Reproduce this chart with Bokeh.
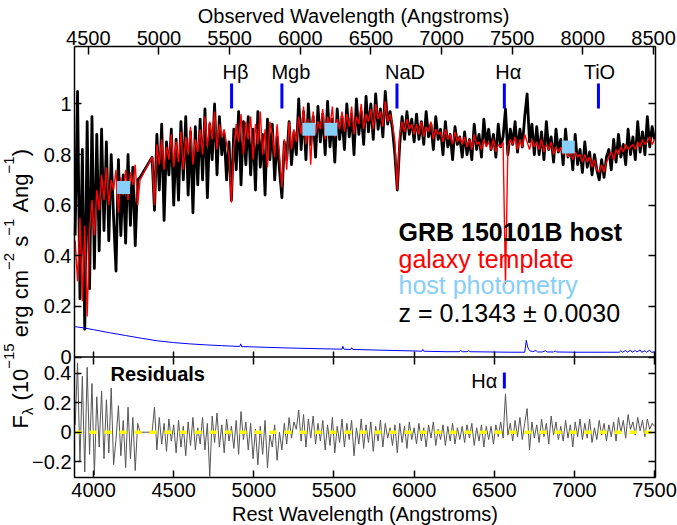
import math
from bokeh.plotting import figure
from bokeh.models import (Range1d, LinearAxis, FixedTicker, CustomJSTickFormatter,
                          Label, ColumnDataSource)
from bokeh.embed import file_html
from bokeh.resources import INLINE

# ---------------- data ----------------
REDSHIFT = 0.1343
REDSHIFT_ERR = 0.0030

WAVE = [
    3885, 3900, 3915, 3930, 3945, 3960, 3975, 3990, 4005, 4020,
    4035, 4050, 4065, 4080, 4095, 4110, 4125, 4140, 4155, 4170,
    4185, 4200, 4215, 4230, 4245, 4260, 4275, 4290,
    4365, 4380, 4395, 4410, 4425, 4440, 4455, 4470, 4485, 4500,
    4515, 4530, 4545, 4560, 4575, 4590, 4605, 4620, 4635, 4650,
    4665, 4680, 4695, 4710, 4725, 4740, 4755, 4770, 4785, 4800,
    4815, 4830, 4845, 4860, 4875, 4890, 4905, 4920, 4935, 4950,
    4965, 4980, 4995, 5010, 5025, 5040, 5055, 5070, 5085, 5100,
    5115, 5130, 5145, 5160, 5175, 5190, 5205, 5220, 5235, 5250,
    5265, 5280, 5295, 5310, 5325, 5340, 5355, 5370, 5385, 5400,
    5415, 5430, 5445, 5460, 5475, 5490, 5505, 5520, 5535, 5550,
    5565, 5580, 5595, 5610, 5625, 5640, 5655, 5670, 5685, 5700,
    5715, 5730, 5745, 5760, 5775, 5790, 5805, 5820, 5835, 5850,
    5865, 5880, 5895, 5910, 5925, 5940, 5955, 5970, 5985, 6000,
    6015, 6030, 6045, 6060, 6075, 6090, 6105, 6120, 6135, 6150,
    6165, 6180, 6195, 6210, 6225, 6240, 6255, 6270, 6285, 6300,
    6315, 6330, 6345, 6360, 6375, 6390, 6405, 6420, 6435, 6450,
    6465, 6480, 6495, 6510, 6525, 6540, 6555, 6570, 6585, 6600,
    6615, 6630, 6645, 6660, 6675, 6690, 6705, 6720, 6735, 6750,
    6765, 6780, 6795, 6810, 6825, 6840, 6855, 6870, 6885, 6900,
    6915, 6930, 6945, 6960, 6975, 6990, 7005, 7020, 7035, 7050,
    7065, 7080, 7095, 7110, 7125, 7140, 7155, 7170, 7185, 7200,
    7215, 7230, 7245, 7260, 7275, 7290, 7305, 7320, 7335, 7350,
    7365, 7380, 7395, 7410, 7425, 7440, 7455, 7470, 7485, 7500,
]

FLUX = [
    0.48, 1.05, 0.23, 0.82, 0.11, 0.93, 0.27, 0.95, 0.35, 0.88,
    0.42, 0.90, 0.50, 0.85, 0.46, 0.80, 0.55, 0.34, 0.78, 0.48,
    0.72, 0.45, 0.80, 0.52, 0.75, 0.44, 0.70, 0.71,
    0.79, 0.58, 0.88, 0.66, 0.92, 0.54, 0.85, 0.72, 0.90, 0.60,
    0.86, 0.62, 0.93, 0.70, 0.95, 0.64, 0.89, 0.57, 0.91, 0.68,
    0.94, 0.70, 0.98, 0.63, 0.92, 0.78, 1.00, 0.72, 0.95, 0.80,
    0.88, 0.70, 0.85, 0.62, 0.90, 0.74, 0.97, 0.68, 0.93, 0.76,
    0.95, 0.72, 0.90, 0.66, 0.97, 0.75, 0.88, 0.64, 0.94, 0.78,
    0.92, 0.70, 0.87, 0.74, 0.63, 0.85, 0.78, 0.93, 0.76, 0.89,
    0.80, 1.02, 0.82, 0.97, 0.78, 1.00, 0.84, 0.95, 0.79, 0.99,
    0.85, 0.96, 0.80, 1.01, 0.83, 0.94, 0.77, 0.98, 0.86, 0.95,
    0.82, 1.00, 0.87, 0.96, 0.80, 1.02, 0.88, 0.97, 0.84, 1.03,
    0.89, 1.00, 0.86, 1.04, 0.90, 0.98, 0.87, 1.05, 0.92, 0.97,
    0.90, 0.80, 0.66, 0.84, 0.95, 0.86, 0.97, 0.88, 0.94, 0.85,
    0.96, 0.86, 0.93, 0.84, 0.97, 0.87, 0.92, 0.82, 0.95, 0.86,
    0.90, 0.80, 0.93, 0.83, 0.88, 0.78, 0.91, 0.84, 0.87, 0.79,
    0.89, 0.80, 0.86, 0.78, 0.92, 0.82, 0.88, 0.79, 0.94, 0.84,
    0.90, 0.82, 0.88, 0.79, 0.92, 0.83, 0.87, 0.98, 0.80, 0.90,
    0.84, 0.93, 0.81, 0.90, 0.83, 0.95, 1.04, 0.85, 0.92, 0.80,
    0.91, 0.80, 0.89, 0.78, 0.93, 0.82, 0.87, 0.77, 0.90, 0.81,
    0.86, 0.76, 0.90, 0.79, 0.84, 0.74, 0.88, 0.76, 0.82, 0.73,
    0.85, 0.75, 0.81, 0.72, 0.80, 0.74, 0.70, 0.78, 0.71, 0.79,
    0.82, 0.74, 0.86, 0.77, 0.88, 0.79, 0.84, 0.76, 0.90, 0.80,
    0.87, 0.78, 0.93, 0.81, 0.89, 0.80, 0.95, 0.83, 0.91, 0.86,
]

MODEL = [
    0.46, 0.30, 0.55, 0.22, 0.52, 0.16, 0.50, 0.62, 0.48, 0.66,
    0.58, 0.72, 0.62, 0.75, 0.60, 0.70, 0.66, 0.74, 0.57, 0.71,
    0.64, 0.74, 0.62, 0.73, 0.68, 0.76, 0.60, 0.70,
    0.79, 0.60, 0.84, 0.76, 0.86, 0.74, 0.83, 0.78, 0.88, 0.75,
    0.85, 0.77, 0.89, 0.74, 0.87, 0.80, 0.91, 0.76, 0.86, 0.81,
    0.90, 0.80, 0.95, 0.83, 0.93, 0.86, 0.97, 0.82, 0.92, 0.87,
    0.90, 0.84, 0.80, 0.61, 0.83, 0.92, 0.85, 0.96, 0.80, 0.93,
    0.86, 0.95, 0.78, 0.92, 0.84, 0.97, 0.80, 0.90, 0.75, 0.93,
    0.88, 0.79, 0.92, 0.80, 0.67, 0.86, 0.74, 0.93, 0.82, 0.90,
    0.85, 0.95, 0.88, 0.99, 0.84, 0.94, 0.76, 0.97, 0.88, 0.93,
    0.90, 0.98, 0.86, 0.95, 0.91, 0.99, 0.87, 0.94, 0.90, 0.97,
    0.89, 0.96, 0.91, 0.99, 0.88, 0.95, 0.92, 1.00, 0.90, 0.96,
    0.93, 0.98, 0.90, 1.00, 0.94, 0.97, 0.91, 1.01, 0.93, 0.96,
    0.92, 0.85, 0.66, 0.88, 0.93, 0.89, 0.94, 0.90, 0.92, 0.88,
    0.92, 0.88, 0.93, 0.87, 0.91, 0.89, 0.93, 0.86, 0.90, 0.88,
    0.89, 0.85, 0.90, 0.86, 0.88, 0.84, 0.89, 0.85, 0.87, 0.84,
    0.87, 0.83, 0.86, 0.82, 0.88, 0.84, 0.85, 0.82, 0.86, 0.83,
    0.85, 0.82, 0.86, 0.81, 0.84, 0.83, 0.85, 0.29, 0.83, 0.86,
    0.84, 0.87, 0.82, 0.86, 0.83, 0.88, 0.85, 0.82, 0.86, 0.83,
    0.85, 0.82, 0.86, 0.81, 0.84, 0.82, 0.85, 0.80, 0.83, 0.81,
    0.83, 0.80, 0.84, 0.79, 0.82, 0.78, 0.81, 0.79, 0.80, 0.77,
    0.80, 0.77, 0.79, 0.75, 0.78, 0.74, 0.73, 0.76, 0.73, 0.77,
    0.79, 0.81, 0.78, 0.82, 0.80, 0.83, 0.81, 0.84, 0.82, 0.83,
    0.84, 0.82, 0.85, 0.83, 0.86, 0.84, 0.85, 0.87, 0.84, 0.86,
]

RESID = [
    0.05, 0.47, -0.20, 0.38, -0.27, 0.44, -0.15, 0.33, -0.29, 0.24,
    -0.10, 0.28, -0.18, 0.22, -0.14, 0.30, -0.22, -0.05, 0.18, -0.16,
    0.08, -0.24, 0.17, -0.18, 0.10, -0.26, 0.06, 0.00,
    0.00, 0.17, -0.12, 0.10, -0.08, 0.06, -0.13, 0.09, -0.06, 0.05,
    -0.14, 0.08, -0.10, 0.04, -0.16, 0.07, -0.09, 0.10, -0.12, 0.03,
    -0.08, 0.10, -0.12, 0.06, -0.30, 0.11, -0.07, 0.13, -0.10, 0.05,
    -0.14, 0.09, -0.06, 0.04, -0.11, 0.08, -0.15, 0.14, -0.05, 0.07,
    -0.12, 0.06, -0.18, 0.02, -0.22, 0.04, -0.15, 0.08, -0.24, -0.02,
    -0.10, 0.05, -0.19, 0.00, -0.12, 0.06, -0.08, 0.10, -0.04, 0.07,
    0.02, 0.15, -0.06, 0.12, -0.10, 0.09, -0.04, 0.11, -0.08, 0.06,
    -0.06, 0.08, -0.12, 0.05, -0.09, 0.10, -0.14, 0.04, -0.07, 0.09,
    -0.10, 0.06, -0.05, 0.08, -0.16, 0.03, -0.08, 0.09, -0.11, 0.05,
    -0.07, 0.07, -0.13, 0.04, -0.06, 0.08, -0.10, 0.06, -0.04, 0.03,
    -0.09, 0.05, -0.14, 0.06, -0.07, 0.04, -0.11, 0.07, -0.05, 0.03,
    -0.08, 0.06, -0.06, 0.03, -0.10, 0.05, -0.04, 0.07, -0.09, 0.02,
    -0.05, 0.05, -0.09, 0.04, -0.06, 0.06, -0.08, 0.03, -0.05, 0.04,
    -0.07, 0.05, -0.04, 0.06, -0.09, 0.03, -0.06, 0.05, -0.10, 0.04,
    -0.05, 0.04, -0.08, 0.05, -0.03, 0.07, -0.04, 0.26, -0.02, 0.06,
    -0.06, 0.08, -0.03, 0.10, -0.05, 0.06, 0.16, -0.12, 0.07, -0.04,
    0.05, -0.07, 0.09, -0.03, 0.06, -0.08, 0.11, -0.02, 0.07, -0.05,
    0.04, -0.06, 0.08, -0.04, 0.05, -0.10, 0.07, -0.03, 0.09, -0.05,
    0.06, -0.04, 0.09, -0.07, 0.03, -0.05, 0.08, -0.02, 0.06, -0.06,
    0.05, -0.03, 0.07, -0.06, 0.10, 0.00, 0.08, -0.04, 0.12, 0.02,
    0.07, -0.02, 0.10, 0.01, 0.08, -0.03, 0.09, 0.02, 0.06, 0.04,
]

ERR_WAVE = [
    3885, 3940, 4000, 4100, 4200, 4300, 4400, 4500, 4600, 4700,
    4800, 4900, 4912, 4918, 4924, 5000, 5200, 5400, 5550, 5556,
    5562, 5605, 5611, 5617, 5800, 6000, 6048, 6054, 6060, 6200,
    6280, 6290, 6300, 6330, 6340, 6350, 6600, 6690, 6700, 6708,
    6716, 6724, 6740, 6760, 6770, 6800, 6820, 6830, 6870, 6880,
    6890, 7000, 7200, 7280, 7290, 7300, 7320, 7330, 7350, 7360,
    7380, 7390, 7410, 7420, 7440, 7450, 7470, 7480, 7500,
]
ERR_FLUX = [
    0.120, 0.115, 0.108, 0.096, 0.085, 0.074, 0.064, 0.057, 0.052, 0.048,
    0.045, 0.042, 0.042, 0.052, 0.041, 0.040, 0.036, 0.033, 0.031, 0.042,
    0.031, 0.030, 0.037, 0.030, 0.027, 0.024, 0.023, 0.030, 0.023, 0.021,
    0.021, 0.026, 0.021, 0.021, 0.025, 0.021, 0.019, 0.019, 0.066, 0.040,
    0.030, 0.024, 0.021, 0.026, 0.020, 0.020, 0.025, 0.020, 0.020, 0.024,
    0.020, 0.019, 0.019, 0.019, 0.025, 0.019, 0.026, 0.019, 0.027, 0.019,
    0.026, 0.020, 0.028, 0.019, 0.025, 0.019, 0.027, 0.019, 0.020,
]

PHOT_WAVE = [4187, 5343, 5481, 6962]
PHOT_FLUX = [0.67, 0.90, 0.90, 0.83]

LINE_NAMES = ["Hβ", "Mgb", "NaD", "Hα", "TiO"]
LINE_WAVE = [4861, 5175, 5893, 6563, 7150]

REST_TICKS = [4000, 4500, 5000, 5500, 6000, 6500, 7000, 7500]
OBS_TICKS = [4500, 5000, 5500, 6000, 6500, 7000, 7500, 8000, 8500]
FLUX_TICKS = [0, 0.2, 0.4, 0.6, 0.8, 1.0]
RESID_TICKS = [-0.2, 0, 0.2, 0.4]

# ---------------- layout / style ----------------
FONT = "Liberation Sans"
W, H = 677, 525
# panel box in canvas pixels
PX_L, PX_R, PX_T, PX_B = 74, 655, 46, 477
X_LO, X_HI = 3881, 7506          # rest wavelength at PX_L, PX_R
Y_LO, Y_HI = -0.476, 1.227       # flux units at PX_B, PX_T
RES_LO, RES_HI = -0.307, 2.615   # residual units at PX_B, PX_T


def X(px):
    return X_LO + (px - PX_L) * (X_HI - X_LO) / (PX_R - PX_L)


def Y(py):
    return Y_HI - (py - PX_T) * (Y_HI - Y_LO) / (PX_B - PX_T)


def RY(py):
    return RES_HI - (py - PX_T) * (RES_HI - RES_LO) / (PX_B - PX_T)


p = figure(width=W, height=H, output_backend="svg", toolbar_location=None,
           x_range=Range1d(X(0), X(W)), y_range=Range1d(Y(H), Y(0)),
           x_axis_location=None, y_axis_location=None,
           min_border=0, min_border_left=0, min_border_right=0,
           min_border_top=0, min_border_bottom=0)
try:
    p.title = None
except Exception:
    p.title.visible = False
p.grid.visible = False
p.background_fill_color = "white"
p.border_fill_color = "white"
p.outline_line_color = None

p.extra_x_ranges = {"obs": Range1d(X(0) * (1 + REDSHIFT), X(W) * (1 + REDSHIFT))}
p.extra_y_ranges = {"res": Range1d(RY(H), RY(0))}

num_fmt = CustomJSTickFormatter(code="""
const v = Math.round(tick * 10) / 10;
return (v < 0 ? '\u2212' : '') + String(Math.abs(v));
""")
blank_fmt = CustomJSTickFormatter(code="return '';")


def make_axis(side, tick_len, standoff=4, **kw):
    ax = LinearAxis(**kw)
    ax.axis_line_color = None
    ax.major_tick_in = tick_len
    ax.major_tick_out = 0
    ax.minor_tick_in = 0
    ax.minor_tick_out = 0
    ax.major_tick_line_color = "black"
    ax.major_tick_line_width = 1.5
    ax.major_label_text_font = FONT
    ax.major_label_text_font_size = "20px"
    ax.major_label_text_color = "black"
    ax.major_label_standoff = standoff
    p.add_layout(ax, side)
    return ax


# bottom rest-wavelength axis
make_axis("below", 7, 5, ticker=FixedTicker(ticks=REST_TICKS), fixed_location=Y(PX_B))
# ticks on the divider between the two panels
make_axis("below", 6, ticker=FixedTicker(ticks=REST_TICKS), formatter=blank_fmt,
          fixed_location=0)
make_axis("above", 7, ticker=FixedTicker(ticks=REST_TICKS), formatter=blank_fmt,
          fixed_location=0)
# top observed-wavelength axis
make_axis("above", 8, 2, x_range_name="obs", ticker=FixedTicker(ticks=OBS_TICKS),
          fixed_location=Y(PX_T))
# left axes
make_axis("left", 7, 3, ticker=FixedTicker(ticks=FLUX_TICKS), formatter=num_fmt,
          fixed_location=X(PX_L))
make_axis("left", 7, 3, y_range_name="res", ticker=FixedTicker(ticks=RESID_TICKS),
          formatter=num_fmt, fixed_location=X(PX_L))
# right mirrored ticks
make_axis("right", 7, ticker=FixedTicker(ticks=FLUX_TICKS), formatter=blank_fmt,
          fixed_location=X(PX_R))
make_axis("right", 7, y_range_name="res", ticker=FixedTicker(ticks=RESID_TICKS),
          formatter=blank_fmt, fixed_location=X(PX_R))


def text(x, py, s, size=20, align="left", color="black", style="normal",
         angle=0.0, dx=0):
    """Label whose visual (cap-height) centre sits at canvas row py."""
    p.add_layout(Label(x=x, y=Y(py), x_offset=dx, text=s, text_align=align,
                       text_baseline="middle", text_font=FONT,
                       text_font_size="%dpx" % size, text_font_style=style,
                       text_color=color, angle=angle))


# ---------------- glyphs ----------------
n = min(len(WAVE), len(FLUX), len(MODEL), len(RESID))
spec = ColumnDataSource(dict(w=WAVE[:n], f=FLUX[:n], m=MODEL[:n], r=RESID[:n]))

p.line("w", "f", source=spec, line_color="black", line_width=2.8, line_join="round")
p.line("w", "m", source=spec, line_color="#FF0000", line_width=1.4)
p.line(ERR_WAVE, ERR_FLUX, line_color="#0000FF", line_width=1)
p.scatter(PHOT_WAVE, PHOT_FLUX, marker="square", size=13,
          fill_color="#87CEFA", line_color=None)

# spectral feature markers
p.segment(x0=LINE_WAVE, x1=LINE_WAVE, y0=Y(108), y1=Y(83),
          line_color="#0000FF", line_width=3)
LINE_LABEL_DX = [4, 9, 8, 4, 1]
for name, wl, dx in zip(LINE_NAMES, LINE_WAVE, LINE_LABEL_DX):
    text(wl, 71, name, align="center", dx=dx)

# residuals
p.line("w", "r", source=spec, y_range_name="res", line_color="#555555", line_width=1)
p.line([X(PX_L), X(PX_R)], [0, 0], y_range_name="res",
       line_color="#FFFF00", line_width=3.5, line_dash="7 8")
HA = LINE_WAVE[LINE_NAMES.index("Hα")]
p.segment(x0=[HA], x1=[HA], y0=Y(388), y1=Y(372), line_color="#0000FF", line_width=3)
text(HA, 380, "Hα", align="right", dx=-7)
text(X(110), 373, "Residuals", style="bold")

# panel frames and divider
p.line([X(PX_L), X(PX_R), X(PX_R), X(PX_L), X(PX_L)],
       [Y(PX_T), Y(PX_T), Y(PX_B), Y(PX_B), Y(PX_T)],
       line_color="black", line_width=1.5)
p.line([X(PX_L), X(PX_R)], [0, 0], line_color="black", line_width=1.5)

# legend-like text block
LEGEND = [("GRB 150101B host", "black", "bold", 231),
          ("galaxy template", "#FF0000", "normal", 258),
          ("host photometry", "#87CEFA", "normal", 284),
          ("z = %.4f \u00b1 %.4f" % (REDSHIFT, REDSHIFT_ERR), "black", "normal", 312)]
for txt, col, sty, py in LEGEND:
    text(X(398), py, txt, size=25, color=col, style=sty)

# axis titles
text(X(353), 15, "Observed Wavelength (Angstroms)", align="center")
text(X((PX_L + PX_R) / 2), 513, "Rest Wavelength (Angstroms)", align="center")

# rotated y-axis title with sub/superscripts
CW = {' ': .278, '(': .333, ')': .333, '0': .556, '1': .556, '2': .556, '5': .556,
      '\u2212': .584, 'e': .556, 'r': .333, 'g': .556, 'c': .5, 'm': .833, 's': .5,
      'A': .667, 'n': .556, 'F': .611, 'λ': .556}
YLABEL_PARTS = [("F", "main"), ("λ", "sub"), (" (10", "main"), ("\u221215", "sup"),
                (" erg cm", "main"), ("\u22122", "sup"), (" s", "main"),
                ("\u22121", "sup"), (" Ang", "main"), ("\u22121", "sup"), (")", "main")]
SIZES = {"main": 22, "sup": 15, "sub": 15}
CENTER_X = {"main": 20, "sup": 8, "sub": 27}
py = 428.0
for txt, kind in YLABEL_PARTS:
    size = SIZES[kind]
    stripped = txt.lstrip()
    py -= (len(txt) - len(stripped)) * CW[' '] * size
    p.add_layout(Label(x=X(CENTER_X[kind]), y=Y(py), text=stripped, angle=math.pi / 2,
                       text_align="left", text_baseline="middle", text_font=FONT,
                       text_font_size="%dpx" % size, text_color="black"))
    py -= sum(CW.get(ch, 0.556) for ch in stripped) * size

open("out.html", "w").write(file_html(p, INLINE))
